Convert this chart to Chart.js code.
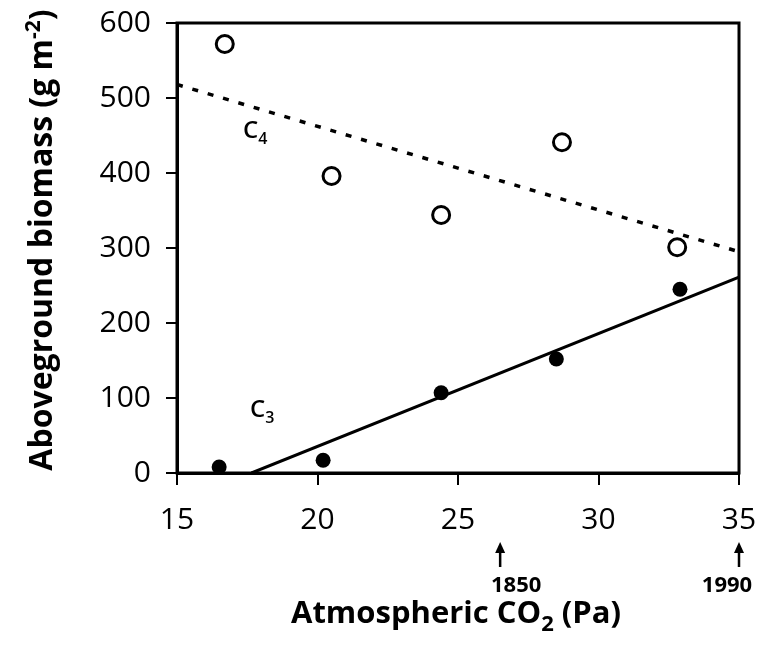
<!DOCTYPE html>
<html>
<head>
<meta charset="utf-8">
<script src="https://cdn.jsdelivr.net/npm/chart.js@4.4.0/dist/chart.umd.min.js"></script>
<style>
  html, body { margin: 0; padding: 0; background: #fff; }
  canvas { display: block; }
</style>
</head>
<body>
<canvas id="myChart" width="767" height="649"></canvas>
<script>
// open circles (C4) and filled circles (C3)
const c4Co2 = [16.7, 20.5, 24.4, 28.7, 32.8]
const c4Biomass = [572, 396, 344, 441, 301]
const c3Co2 = [16.5, 20.2, 24.4, 28.5, 32.9]
const c3Biomass = [8, 17, 107, 152, 245]

// regression lines
const c4FitCo2 = [15, 35]
const c4FitBiomass = [518, 295]
const c3FitCo2 = [17.65, 35]
const c3FitBiomass = [0, 261]

const xTicks = [15, 20, 25, 30, 35]
const yTicks = [0, 100, 200, 300, 400, 500, 600]

// year markers under the x axis
const markerCo2 = [26.5, 35]
const markerYears = ['1850', '1990']

const FONT = '"Open Sans", "Noto Sans", sans-serif'

const toPoints = (xs, ys) => xs.map((x, i) => ({ x: x, y: ys[i] }))

// draws text made of pieces (for sub/superscripts)
function drawParts(c, parts, x, y, align) {
  let total = 0
  parts.forEach(p => { c.font = p.font; total += c.measureText(p.text).width })
  let cx = align === 'center' ? x - total / 2 : x
  c.textAlign = 'left'
  c.textBaseline = 'alphabetic'
  parts.forEach(p => {
    c.font = p.font
    c.fillText(p.text, cx, y + (p.dy || 0))
    cx += c.measureText(p.text).width
  })
}

const extras = {
  id: 'extras',
  afterDraw(chart) {
    const c = chart.ctx
    const a = chart.chartArea
    const xs = chart.scales.x
    const ys = chart.scales.y
    c.save()
    c.strokeStyle = '#000'
    c.fillStyle = '#000'
    c.lineWidth = 3
    c.strokeRect(a.left, a.top, a.right - a.left, a.bottom - a.top)

    // series labels
    const big = '600 24px ' + FONT
    const sub = '600 16px ' + FONT
    drawParts(c, [{ text: 'C', font: big }, { text: '4', font: sub, dy: 6 }],
      xs.getPixelForValue(17.35), ys.getPixelForValue(455) + 6, 'left')
    drawParts(c, [{ text: 'C', font: big }, { text: '3', font: sub, dy: 6 }],
      xs.getPixelForValue(17.6), ys.getPixelForValue(84) + 7, 'left')

    // x axis title
    drawParts(c, [
      { text: 'Atmospheric CO', font: 'bold 31px ' + FONT },
      { text: '2', font: 'bold 22px ' + FONT, dy: 8 },
      { text: ' (Pa)', font: 'bold 31px ' + FONT }
    ], 456, 623, 'center')

    // y axis title
    c.save()
    c.translate(52, 240)
    c.rotate(-Math.PI / 2)
    drawParts(c, [
      { text: 'Aboveground biomass (g m', font: 'bold 32px ' + FONT },
      { text: '-2', font: 'bold 21px ' + FONT, dy: -12 },
      { text: ')', font: 'bold 32px ' + FONT }
    ], 0, 0, 'center')
    c.restore()

    // year arrows
    markerCo2.forEach((v, i) => {
      const px = xs.getPixelForValue(v)
      c.lineWidth = 2.5
      c.beginPath()
      c.moveTo(px, 567)
      c.lineTo(px, 550)
      c.stroke()
      c.beginPath()
      c.moveTo(px, 542)
      c.lineTo(px - 5, 553)
      c.lineTo(px + 5, 553)
      c.closePath()
      c.fill()
      c.font = 'bold 22px ' + FONT
      c.textAlign = 'center'
      c.textBaseline = 'middle'
      const off = i === markerCo2.length - 1 ? -12 : 16
      c.fillText(markerYears[i], px + off, 586)
    })
    c.restore()
  }
}

const ctx = document.getElementById('myChart')

const myChart = new Chart(ctx, {
  type: 'scatter',
  data: {
    datasets: [{
      label: 'C4 fit',
      data: toPoints(c4FitCo2, c4FitBiomass),
      showLine: true,
      borderColor: '#000',
      borderWidth: 3.5,
      borderDash: [6, 10],
      pointRadius: 0
    }, {
      label: 'C3 fit',
      data: toPoints(c3FitCo2, c3FitBiomass),
      showLine: true,
      borderColor: '#000',
      borderWidth: 3,
      pointRadius: 0
    }, {
      label: 'C4',
      data: toPoints(c4Co2, c4Biomass),
      pointRadius: 8.5,
      pointBorderWidth: 3,
      pointBackgroundColor: '#fff',
      pointBorderColor: '#000'
    }, {
      label: 'C3',
      data: toPoints(c3Co2, c3Biomass),
      pointRadius: 7.5,
      pointBorderWidth: 0,
      pointBackgroundColor: '#000',
      pointBorderColor: '#000'
    }]
  },
  options: {
    responsive: false,
    animation: false,
    layout: { padding: { top: 23, right: 28, left: 0, bottom: 0 } },
    plugins: {
      legend: { display: false },
      tooltip: { enabled: false }
    },
    scales: {
      x: {
        type: 'linear',
        min: 15,
        max: 35,
        afterBuildTicks: s => { s.ticks = xTicks.map(v => ({ value: v })) },
        afterFit: s => { s.height = 176; s.paddingLeft = 0; s.paddingRight = 0 },
        grid: { drawOnChartArea: false, tickLength: 12, color: '#000', lineWidth: 2 },
        border: { display: true, color: '#000', width: 3 },
        ticks: { color: '#000', padding: 17, font: { family: FONT, size: 30 } }
      },
      y: {
        type: 'linear',
        min: 0,
        max: 600,
        afterBuildTicks: s => { s.ticks = yTicks.map(v => ({ value: v })) },
        afterFit: s => { s.width = 177; s.paddingTop = 0; s.paddingBottom = 0 },
        grid: { drawOnChartArea: false, tickLength: 11, color: '#000', lineWidth: 2 },
        border: { display: true, color: '#000', width: 3 },
        ticks: { color: '#000', padding: 15, font: { family: FONT, size: 30 } }
      }
    }
  },
  plugins: [extras]
})
</script>
</body>
</html>
